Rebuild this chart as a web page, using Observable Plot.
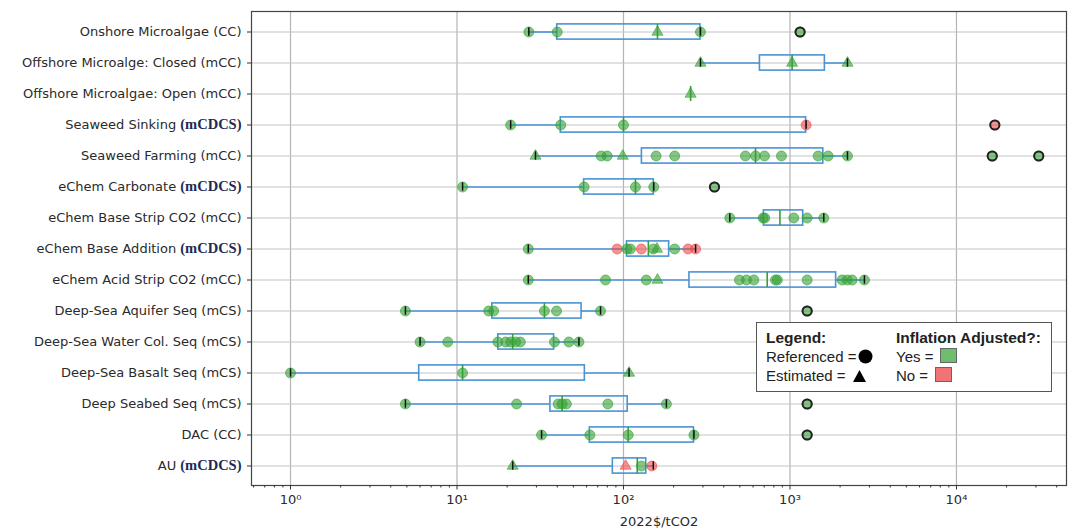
<!DOCTYPE html>
<html>
<head>
<meta charset="utf-8">
<script src="https://cdn.jsdelivr.net/npm/d3@7"></script>
<script src="https://cdn.jsdelivr.net/npm/@observablehq/plot@0.6"></script>
<style>
  body { margin: 0; background: #fff; }
  #wrap { position: relative; width: 1068px; height: 531px; overflow: hidden; }
  #legend { position: absolute; left: 756px; top: 322px; width: 294px; height: 68px; border: 1.5px solid #555; background: #fff;
    font-family: "Liberation Sans", Arial, sans-serif; font-size: 15px; color: #222; }
  #legend span { position: absolute; white-space: nowrap; line-height: 18px; }
  #legend b { font-weight: bold; font-size: 15.5px; }
  #legend svg { vertical-align: -2px; margin-left: 2px; }
  .sq { display: inline-block; width: 15px; height: 13px; vertical-align: -2px; margin-left: 4px; border: 1px solid #666; }
</style>
</head>
<body>
<div id="wrap"></div>
<script>
// ---- data ----
const categories = [
  "Onshore Microalgae (CC)",
  "Offshore Microalge: Closed (mCC)",
  "Offshore Microalgae: Open (mCC)",
  "Seaweed Sinking (mCDCS)",
  "Seaweed Farming (mCC)",
  "eChem Carbonate (mCDCS)",
  "eChem Base Strip CO2 (mCC)",
  "eChem Base Addition (mCDCS)",
  "eChem Acid Strip CO2 (mCC)",
  "Deep-Sea Aquifer Seq (mCS)",
  "Deep-Sea Water Col. Seq (mCS)",
  "Deep-Sea Basalt Seq (mCS)",
  "Deep Seabed Seq (mCS)",
  "DAC (CC)",
  "AU (mCDCS)"
];
// box statistics (2022$/tCO2)
const q1Values     = [40,   660,  253, 42,   129,  58,   697,  105, 249,  16.3, 17.7, 5.93, 36.4, 62.8,  86.3];
const medianValues = [160,  1030, 253, 100,  621,  118,  870,  141, 730,  33.5, 21.6, 10.8, 42.8, 106.7, 121];
const q3Values     = [290,  1620, 253, 1250, 1585, 152,  1200, 188, 1893, 56,   38.3, 58.6, 106,  265,   137];
const whiskerLow   = [27,   290,  null, 21,  29.6, 10.8, 435,  26.8, 26.8, 4.9, 6.0,  1.0,  4.9,  32.2,  21.6];
const whiskerHigh  = [290,  2215, null, 1250, 2215, 152, 1596, 271, 2800, 72.8, 54,   108,  181,  265,   151];

// individual estimates: category index, value, method (R = referenced, E = estimated), inflation adjusted (Y/N)
const pointCategory = [
  0,0,0,0,0,
  1,1,1,
  2,
  3,3,3,3,3,
  4,4,4,4,4,4,4,4,4,4,4,4,4,4,4,
  5,5,5,5,5,
  6,6,6,6,6,6,
  7,7,7,7,7,7,7,7,7,7,
  8,8,8,8,8,8,8,8,8,8,8,8,8,8,
  9,9,9,9,9,9,9,
  10,10,10,10,10,10,10,10,10,10,
  11,11,11,
  12,12,12,12,12,12,12,12,
  13,13,13,13,13,
  14,14,14,14
];
const pointValue = [
  27, 40, 160, 290, 1150,
  290, 1030, 2215,
  253,
  21, 42, 100, 1250, 17000,
  29.6, 73.5, 79.8, 99, 157, 203, 540, 621, 703, 889, 1476, 1695, 2215, 16400, 31200,
  10.8, 58, 118, 152, 352,
  435, 690, 705, 1054, 1268, 1596,
  26.8, 91.6, 105, 110, 128, 151, 159, 203, 244, 271,
  26.8, 78, 137, 160, 497, 548, 607, 818, 840, 1268, 2056, 2205, 2363, 2800,
  4.9, 15.5, 16.6, 33.5, 39.6, 72.8, 1268,
  6.0, 8.8, 17.6, 19.6, 21, 22.5, 24, 38.5, 47, 54,
  1.0, 10.8, 108,
  4.9, 22.8, 40.5, 42.8, 45.4, 80.5, 181, 1268,
  32.2, 62.8, 106.7, 265, 1268,
  21.6, 103, 128, 148
];
const pointMethod = [
  "R","R","E","R","R",
  "E","E","E",
  "E",
  "R","R","R","R","R",
  "E","R","R","E","R","R","R","R","R","R","R","R","R","R","R",
  "R","R","R","R","R",
  "R","R","R","R","R","R",
  "R","R","R","R","R","R","E","R","R","R",
  "R","R","R","E","R","R","R","R","R","R","R","R","R","R",
  "R","R","R","R","R","R","R",
  "R","R","R","R","R","R","R","R","R","R",
  "R","R","E",
  "R","R","R","R","R","R","R","R",
  "R","R","R","R","R",
  "E","E","R","R"
];
const pointAdjusted = [
  "Y","Y","Y","Y","Y",
  "Y","Y","Y",
  "Y",
  "Y","Y","Y","N","N",
  "Y","Y","Y","Y","Y","Y","Y","Y","Y","Y","Y","Y","Y","Y","Y",
  "Y","Y","Y","Y","Y",
  "Y","Y","Y","Y","Y","Y",
  "Y","N","Y","Y","N","Y","Y","Y","N","N",
  "Y","Y","Y","Y","Y","Y","Y","Y","Y","Y","Y","Y","Y","Y",
  "Y","Y","Y","Y","Y","Y","Y",
  "Y","Y","Y","Y","Y","Y","Y","Y","Y","Y",
  "Y","Y","Y",
  "Y","Y","Y","Y","Y","Y","Y","Y",
  "Y","Y","Y","Y","Y",
  "Y","N","Y","N"
];
const majorTicks = [1, 10, 100, 1000, 10000];
const axisLabel = "2022$/tCO2";

// ---- tables built from the arrays ----
const rows = categories.map((category, i) => ({
  category, q1: q1Values[i], median: medianValues[i], q3: q3Values[i], lo: whiskerLow[i], hi: whiskerHigh[i]
}));
const rowByCat = new Map(rows.map(r => [r.category, r]));
const points = pointValue.map((value, i) => ({
  category: categories[pointCategory[i]], value, method: pointMethod[i], adjusted: pointAdjusted[i]
}));
const fliers = points.filter(p => {
  const r = rowByCat.get(p.category);
  return r.lo != null && (p.value > r.hi || p.value < r.lo);
});
const whiskerRows = rows.filter(r => r.lo != null);
const caps = whiskerRows.flatMap(r => [{category: r.category, x: r.lo}, {category: r.category, x: r.hi}]);
const minorTicks = [];
for (const d of [0.1, 1, 10, 100, 1000, 10000]) for (let k = 2; k <= 9; k++) minorTicks.push(+(d * k).toPrecision(3));

const sup = {"0":"⁰","1":"¹","2":"²","3":"³","4":"⁴","5":"⁵","-":"⁻"};
const fmtPow = d => "10" + String(Math.round(Math.log10(d))).split("").map(c => sup[c]).join("");

const green = "#34a034", red = "#ee4a4a", blue = "#4a93d2";
const boxInset = 7.9;
const dotStyle = {x: "value", y: "category", fill: "adjusted", stroke: "adjusted", symbol: "method",
  fillOpacity: 0.6, strokeOpacity: 0.6, strokeWidth: 1};

const chart = Plot.plot({
  width: 1068, height: 531,
  marginLeft: 251, marginRight: 2, marginTop: 11, marginBottom: 46,
  style: {fontFamily: "'DejaVu Sans', sans-serif", fontSize: "13px", color: "#2a2a2a", background: "#fff"},
  x: {type: "log", domain: [0.583, 45800]},
  y: {type: "band", domain: categories, padding: 0},
  color: {domain: ["Y", "N"], range: [green, red]},
  symbol: {domain: ["R", "E"], range: ["circle", "triangle"]},
  marks: [
    Plot.gridX({ticks: majorTicks, stroke: "#b4b4b4", strokeOpacity: 1, strokeWidth: 1.2}),
    Plot.gridY({stroke: "#c4c4c4", strokeOpacity: 1, strokeWidth: 1.2}),
    Plot.ruleY(whiskerRows, {y: "category", x1: "lo", x2: "q1", stroke: blue, strokeWidth: 1.6}),
    Plot.ruleY(whiskerRows, {y: "category", x1: "q3", x2: "hi", stroke: blue, strokeWidth: 1.6}),
    Plot.barX(rows, {y: "category", x1: "q1", x2: "q3", fill: "none", stroke: blue, strokeWidth: 1.6, insetTop: boxInset, insetBottom: boxInset}),
    Plot.dot(points.filter(d => d.method === "R"), {...dotStyle, r: 5}),
    Plot.dot(points.filter(d => d.method === "E"), {...dotStyle, r: 4.1}),
    Plot.tickX(rows, {x: "median", y: "category", stroke: green, strokeWidth: 1.6, insetTop: boxInset, insetBottom: boxInset}),
    Plot.tickX(caps, {x: "x", y: "category", stroke: "#111", strokeWidth: 1.5, insetTop: 11.3, insetBottom: 11.3}),
    Plot.dot(fliers, {x: "value", y: "category", r: 4.6, fill: "none", stroke: "#222", strokeWidth: 2}),
    Plot.frame({stroke: "#444", strokeWidth: 1.2}),
    Plot.axisY({tickSize: 4, tickPadding: 6, label: null, stroke: "#333"}),
    Plot.axisX({ticks: minorTicks.filter(t => t > 0.583 && t < 45800), tickSize: 2.5, tickFormat: () => "", label: null, stroke: "#333"}),
    Plot.axisX({ticks: majorTicks, tickSize: 4.5, tickPadding: 5, tickFormat: fmtPow, fontSize: 13,
      label: axisLabel, labelAnchor: "center", labelArrow: "none", labelOffset: 40, stroke: "#333"})
  ]
});

// render the "(mCDCS)" suffix in serif bold, as in the reference
chart.querySelectorAll("text").forEach(t => {
  const s = t.textContent;
  if (s.endsWith("(mCDCS)") && categories.includes(s)) {
    const base = s.slice(0, -7);
    t.textContent = "";
    const a = document.createElementNS("http://www.w3.org/2000/svg", "tspan");
    a.textContent = base;
    const b = document.createElementNS("http://www.w3.org/2000/svg", "tspan");
    b.textContent = "(mCDCS)";
    b.setAttribute("font-family", "'Liberation Serif', serif");
    b.setAttribute("font-weight", "bold");
    b.setAttribute("font-size", "14.5");
    b.setAttribute("fill", "#1d2b55");
    t.append(a, b);
  }
});

const wrap = document.getElementById("wrap");
wrap.append(chart);

const legend = document.createElement("div");
legend.id = "legend";
legend.innerHTML = `
  <span style="left:9px;top:6px"><b>Legend:</b></span>
  <span style="left:139px;top:6px"><b>Inflation Adjusted?:</b></span>
  <span style="left:9px;top:25px">Referenced =<svg width="15" height="15"><circle cx="7.5" cy="7.5" r="7" fill="#000"/></svg></span>
  <span style="left:9px;top:44px">Estimated = <svg width="15" height="14"><path d="M7.5 1 L14 13 L1 13 Z" fill="#000"/></svg></span>
  <span style="left:139px;top:25px">Yes =<span class="sq" style="background:#6dbf6d;margin-left:7px"></span></span>
  <span style="left:139px;top:44px">No =<span class="sq" style="background:#f07474;margin-left:7px"></span></span>`;
wrap.append(legend);
</script>
</body>
</html>
